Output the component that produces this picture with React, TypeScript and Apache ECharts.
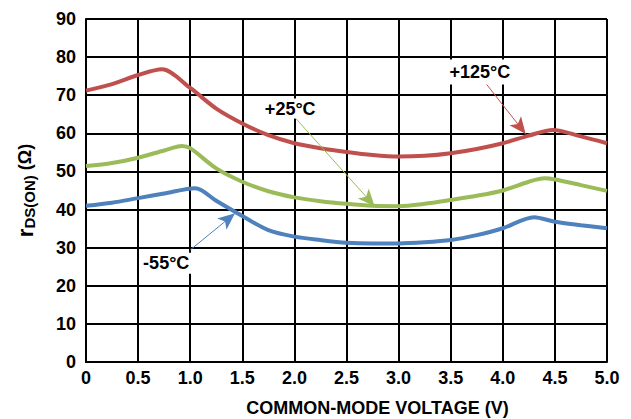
import React, { useEffect, useRef } from "react";
import * as echarts from "echarts";

// rDS(ON) versus common-mode voltage, one curve per temperature: [volts, ohms]
const hot125: number[][] = [
  [0, 71.2], [0.25, 72.9], [0.5, 75.3], [0.73, 76.8], [1.0, 71.9], [1.25, 66.5],
  [1.5, 62.6], [1.75, 59.5], [2.0, 57.4], [2.25, 56.1], [2.5, 55.1], [2.75, 54.3],
  [3.0, 53.9], [3.25, 54.1], [3.5, 54.8], [3.75, 55.9], [4.0, 57.4], [4.25, 59.4],
  [4.48, 60.9], [4.75, 59.2], [5.0, 57.4],
];
const room25: number[][] = [
  [0, 51.4], [0.25, 52.2], [0.5, 53.6], [0.75, 55.5], [0.92, 56.7], [1.0, 56.1],
  [1.25, 50.8], [1.5, 47.3], [1.75, 44.8], [2.0, 43.2], [2.25, 42.2], [2.5, 41.5],
  [2.75, 41.0], [3.0, 40.9], [3.25, 41.5], [3.5, 42.5], [3.75, 43.6], [4.0, 45.0],
  [4.25, 47.3], [4.4, 48.2], [4.5, 47.9], [4.75, 46.4], [5.0, 44.9],
];
const cold55: number[][] = [
  [0, 41.0], [0.25, 41.8], [0.5, 43.0], [0.75, 44.2], [1.05, 45.6], [1.25, 42.3],
  [1.5, 38.3], [1.75, 34.6], [2.0, 32.9], [2.25, 32.0], [2.5, 31.3], [2.75, 31.1],
  [3.0, 31.1], [3.25, 31.4], [3.5, 32.0], [3.75, 33.3], [4.0, 35.1], [4.3, 38.0],
  [4.5, 36.8], [4.75, 35.9], [5.0, 35.1],
];

const seriesNames = ["+125°C", "+25°C", "-55°C"];
const seriesColors = ["#C0504D", "#9BBB59", "#4F81BD"];

// callout text anchor, arrow start and arrow tip, in data units
const calloutAt: number[][] = [[3.78, 76.1], [1.96, 66.5], [0.77, 25.9]];
const arrowFrom: number[][] = [[3.84, 73.0], [2.01, 64.0], [1.0, 29.4]];
const arrowTo: number[][] = [[4.22, 59.8], [2.77, 40.9], [1.43, 39.0]];
const calloutBox: number[][] = [[70, 25], [60, 20], [54, 21]];

const FONT = "'Liberation Sans', Arial, sans-serif";

function buildSeries(data: number[][], i: number) {
  return {
    type: "line",
    name: seriesNames[i],
    data,
    smooth: 0.3,
    showSymbol: false,
    symbol: "none",
    lineStyle: { color: seriesColors[i], width: 4 },
    z: 3,
    markLine: {
      silent: true,
      symbol: ["none", "arrow"],
      symbolSize: [11, 17],
      label: { show: false },
      lineStyle: { color: seriesColors[i], width: 1, type: "solid" },
      data: [[{ coord: arrowFrom[i] }, { coord: arrowTo[i] }]],
    },
    markPoint: {
      silent: true,
      symbol: "rect",
      symbolSize: calloutBox[i],
      itemStyle: { color: "#ffffff" },
      label: {
        show: true,
        position: "inside",
        color: "#000",
        fontFamily: FONT,
        fontWeight: "bold",
        fontSize: 18,
        formatter: seriesNames[i],
      },
      data: [{ coord: calloutAt[i] }],
    },
  };
}

export default function App() {
  const ref = useRef<HTMLDivElement>(null);

  useEffect(() => {
    document.body.style.margin = "0";
    if (!ref.current) return;
    const chart = echarts.init(ref.current, null, { renderer: "svg" });
    chart.setOption({
      animation: false,
      backgroundColor: "#ffffff",
      grid: { left: 86, right: 24, top: 19, bottom: 57, outerBoundsMode: "none" },
      xAxis: {
        type: "value",
        min: 0,
        max: 5,
        interval: 0.5,
        name: "COMMON-MODE VOLTAGE (V)",
        nameLocation: "middle",
        nameGap: 37,
        nameTextStyle: {
          fontFamily: FONT,
          fontWeight: "bold",
          fontSize: 18,
          lineHeight: 18,
          color: "#000",
          padding: [0, 0, 0, 62],
        },
        axisLine: { lineStyle: { color: "#000", width: 2 } },
        axisTick: { show: false },
        splitLine: { show: true, lineStyle: { color: "#000", width: 2 } },
        axisLabel: {
          fontFamily: FONT,
          fontWeight: "bold",
          fontSize: 18,
          color: "#000",
          margin: 7,
          formatter: (v: number) => (v === 0 ? "0" : v.toFixed(1)),
        },
      },
      yAxis: {
        type: "value",
        min: 0,
        max: 90,
        interval: 10,
        name: "{r|r}{s|DS(ON)}{n| (Ω)}",
        nameLocation: "middle",
        nameGap: 49,
        nameTextStyle: {
          fontFamily: FONT,
          fontWeight: "bold",
          color: "#000",
          rich: {
            r: { fontFamily: FONT, fontWeight: "bold", fontSize: 22, color: "#000" },
            s: {
              fontFamily: FONT,
              fontWeight: "bold",
              fontSize: 15,
              color: "#000",
              verticalAlign: "bottom",
              padding: [9, 0, 0, 0],
            },
            n: { fontFamily: FONT, fontWeight: "bold", fontSize: 18, color: "#000" },
          },
        },
        axisLine: { show: true, lineStyle: { color: "#000", width: 2 } },
        axisTick: { show: false },
        splitLine: { show: true, lineStyle: { color: "#000", width: 2 } },
        axisLabel: {
          fontFamily: FONT,
          fontWeight: "bold",
          fontSize: 18,
          color: "#000",
          margin: 10,
        },
      },
      series: [hot125, room25, cold55].map((d, i) => buildSeries(d, i)),
    });
    return () => chart.dispose();
  }, []);

  return <div ref={ref} style={{ width: 631, height: 419 }} />;
}
